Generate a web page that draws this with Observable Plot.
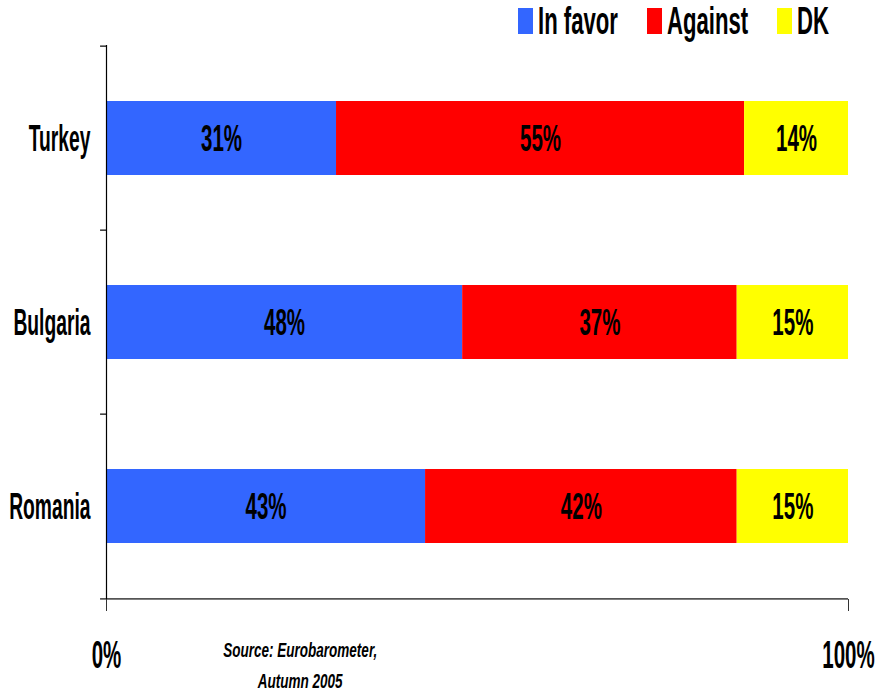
<!DOCTYPE html>
<html>
<head>
<meta charset="utf-8">
<script src="https://cdn.jsdelivr.net/npm/d3@7"></script>
<script src="https://cdn.jsdelivr.net/npm/@observablehq/plot@0.6"></script>
<style>
  html, body { margin: 0; padding: 0; background: #fff; }
  body { width: 878px; height: 691px; overflow: hidden; position: relative;
         font-family: "Liberation Sans", Arial, sans-serif; font-weight: bold; }
  #legend { position: relative; height: 42px; }
  .swatch { position: absolute; top: 8px; width: 15px; height: 26px; }
  .label { position: absolute; top: 8px; font-size: 27px; line-height: 26px; white-space: nowrap;
           transform: scale(0.82, 1.45); transform-origin: 0 50%; color: #000; }
</style>
</head>
<body>
<div id="legend"></div>
<div id="chart"></div>
<script>
// Survey: attitudes towards EU accession, by candidate country
const countries = ["Turkey", "Bulgaria", "Romania"];
const responses = ["In favor", "Against", "DK"];
const inFavor = [31, 48, 43];
const against = [55, 37, 42];
const dontKnow = [14, 15, 15];
const colors = ["#3366FF", "#FF0000", "#FFFF00"];
const xTicks = [0, 100];
const sourceNote = ["Source: Eurobarometer,\nAutumn 2005"];

const series = [inFavor, against, dontKnow];
const rows = countries.flatMap((country, i) =>
  responses.map((response, j) => ({country, response, value: series[j][i]}))
);

// Legend row
const legendPos = [518, 647, 777];
const legend = document.getElementById("legend");
responses.forEach((r, j) => {
  const sw = document.createElement("span");
  sw.className = "swatch";
  sw.style.left = legendPos[j] + "px";
  sw.style.background = colors[j];
  const lb = document.createElement("span");
  lb.className = "label";
  lb.style.left = (legendPos[j] + 20) + "px";
  lb.textContent = r;
  legend.append(sw, lb);
});

const H = 649, MT = 3, MB = 92;
const step = (H - MT - MB) / countries.length;

const chart = Plot.plot({
  width: 878,
  height: H,
  marginLeft: 106,
  marginRight: 30,
  marginTop: MT,
  marginBottom: MB,
  style: {
    fontFamily: '"Liberation Sans", Arial, sans-serif',
    fontWeight: "bold",
    fontSize: "24px",
    color: "#000",
    background: "#fff",
    overflow: "visible"
  },
  x: {domain: [0, 100], axis: null},
  y: {domain: countries, paddingInner: 0.6, paddingOuter: 0.3, axis: null},
  color: {domain: responses, range: colors},
  marks: [
    Plot.barX(rows, Plot.stackX({x: "value", y: "country", fill: "response"})),
    Plot.text(rows, Plot.stackX({x: "value", y: "country", text: d => d.value + "%", fill: "#000", fontSize: 25})),
    // country labels
    Plot.axisY({tickSize: 0, tickPadding: 16, fontSize: 23.5, fill: "#000", label: null}),
    // ticks at the band boundaries
    Plot.ruleY(countries, {y: d => d, x1: -0.8, x2: 0, dy: -step / 2, stroke: "#333", strokeWidth: 1.5}),
    // x baseline
    Plot.ruleY([countries[countries.length - 1]], {y: d => d, x1: -0.8, x2: 100, dy: step / 2, stroke: "#555", strokeWidth: 1.8}),
    // y axis line
    Plot.ruleX([0], {stroke: "#000", strokeWidth: 1.2}),
    Plot.axisX({ticks: xTicks, tickSize: 12, tickPadding: 29, tickFormat: d => d + "%", fontSize: 25, fill: "#000", stroke: "#333", label: null}),
    Plot.text(sourceNote, {x: 26.1, frameAnchor: "bottom", lineAnchor: "middle", dy: 63, text: d => d, fontSize: 16.5, fontStyle: "italic", lineHeight: 1.55, fill: "#000"})
  ]
});

// tall, condensed lettering
const stretch = {"y-axis tick label": 1.6, "x-axis tick label": 1.55};
chart.querySelectorAll("text").forEach(t => {
  const g = t.closest("g[aria-label]");
  let s = (g && stretch[g.getAttribute("aria-label")]) || 1.5;
  if (t.closest('[font-style="italic"]')) s = 1.2;
  const tr = t.getAttribute("transform") || "";
  t.setAttribute("transform", tr + ` scale(0.82,${s})`);
});
document.getElementById("chart").appendChild(chart);
</script>
</body>
</html>
